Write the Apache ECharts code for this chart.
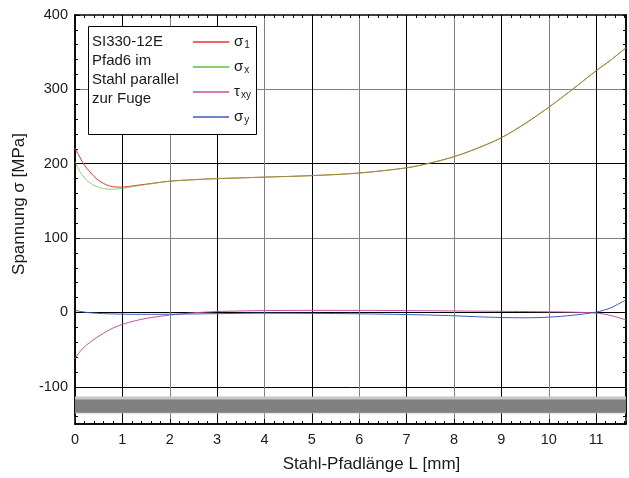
<!DOCTYPE html>
<html><head><meta charset="utf-8">
<script src="https://cdn.jsdelivr.net/npm/echarts@6/dist/echarts.min.js"></script>
<style>html,body{margin:0;padding:0;background:#fff}#c{width:629px;height:478px}</style>
</head><body><div id="c"></div>
<script>
// ---- data ----
const xs     = [0, 0.1, 0.2, 0.3, 0.45, 0.6, 0.8, 1.0, 1.25, 1.5, 2, 2.5, 3, 3.5, 4, 5, 6, 7, 7.5, 8, 8.5, 9, 9.5, 10, 10.5, 11, 11.3, 11.63];
const sigma1 = [221, 209, 198, 190, 180, 173.5, 169, 168.5, 170.5, 172.5, 176.5, 178.5, 180, 181, 182, 184, 187.5, 194.5, 201, 209.5, 221, 235, 254, 276, 300, 325, 339, 356];
const sigmaX = [203, 190, 181, 175, 169.5, 166.5, 165.8, 166.8, 169.5, 172, 176.5, 178.5, 180, 181, 182, 184, 187.5, 194.5, 201, 209.5, 221, 235, 254, 276, 300, 325, 339, 356];
const tauXY  = [-62, -53, -46, -41, -34, -28, -21, -16, -11.5, -8, -3.5, -0.5, 1.2, 2, 2.5, 2.8, 2.8, 2.5, 2.3, 2, 1.8, 1.5, 1.2, 0.9, 0.4, -0.8, -4, -10];
const sigmaY = [3, 1.5, 0.5, -0.3, -1, -1.6, -2, -2.3, -2.5, -2.5, -2.4, -2, -1.6, -1.2, -1, -1.2, -1.8, -2.8, -3.5, -4.5, -5.8, -6.8, -7.2, -6.3, -3.8, 0.5, 6, 17];
const seriesNames = ['σ1', 'σx', 'τxy', 'σy'];
const xTickLabels = [0, 1, 2, 3, 4, 5, 6, 7, 8, 9, 10, 11];
const yTickLabels = [-100, 0, 100, 200, 300, 400];
const band = [-113, -136];      // light gray band (steel)
const bandCore = [-117, -135];  // dark gray core
const xMin = 0, xMax = 11.63, yMin = -150, yMax = 400;
const xMinorStep = 0.2, yMinorStep = 20, yMinorStart = -140;

const pairs = arr => xs.map((x, i) => [x, arr[i]]);
const FONT = 'Liberation Sans, Arial, sans-serif';
const TXT = '#1a1a1a';

// plot geometry
const G = { left: 75, right: 3, top: 15, bottom: 54 };
// second (tick-only) grid whose y range starts at the first minor tick, so interval ticks fall on multiples of 20
const pxPerUnit = (478 - G.top - G.bottom) / (yMax - yMin);
const G2 = { left: G.left, right: G.right, top: G.top, bottom: G.bottom + (yMinorStart - yMin) * pxPerUnit };

const axLine = { show: true, onZero: false, lineStyle: { color: '#000', width: 1.5 } };
const minorTick = { show: true, inside: true, length: 3, lineStyle: { color: '#000', width: 1 } };

const chart = echarts.init(document.getElementById('c'), null, { renderer: 'canvas' });
chart.setOption({
  animation: false,
  backgroundColor: '#fff',
  grid: [
    Object.assign({ containLabel: false }, G),
    Object.assign({ containLabel: false }, G2)
  ],
  xAxis: [
    { type: 'value', gridIndex: 0, position: 'bottom', min: xMin, max: xMax, axisLine: axLine,
      axisTick: { show: true, inside: true, length: 5, customValues: xTickLabels, lineStyle: { color: '#000' } },
      axisLabel: { show: true, customValues: xTickLabels, fontSize: 14.5, fontFamily: FONT, color: TXT, margin: 8 },
      splitLine: { show: true, lineStyle: { color: ['#808080', '#000'], width: 1 } },
      name: 'Stahl-Pfadlänge L [mm]', nameLocation: 'middle', nameGap: 32,
      nameTextStyle: { fontSize: 17, fontFamily: FONT, color: TXT, padding: [0, 0, 0, 42] } },
    { type: 'value', gridIndex: 0, position: 'bottom', min: xMin, max: xMax, interval: xMinorStep, axisLine: axLine,
      axisTick: minorTick, axisLabel: { show: false }, splitLine: { show: false } },
    { type: 'value', gridIndex: 0, position: 'top', min: xMin, max: xMax, interval: xMinorStep, axisLine: axLine,
      axisTick: minorTick, axisLabel: { show: false }, splitLine: { show: false } },
    { type: 'value', gridIndex: 1, position: 'bottom', min: xMin, max: xMax, show: false }
  ],
  yAxis: [
    { type: 'value', gridIndex: 0, position: 'left', min: yMin, max: yMax, axisLine: axLine,
      axisTick: { show: true, inside: true, length: 5, customValues: yTickLabels, lineStyle: { color: '#000' } },
      axisLabel: { show: true, customValues: yTickLabels, fontSize: 14.5, fontFamily: FONT, color: TXT, margin: 7 },
      splitLine: { show: true, lineStyle: { color: ['#000', '#000', '#808080', '#000', '#808080', 'transparent'], width: 1 } },
      name: 'Spannung σ [MPa]', nameLocation: 'middle', nameGap: 38,
      nameTextStyle: { fontSize: 17, fontFamily: FONT, color: TXT, padding: [0, 0, 0, 31] } },
    { type: 'value', gridIndex: 0, position: 'right', min: yMin, max: yMax, axisLine: axLine,
      axisTick: { show: false }, axisLabel: { show: false }, splitLine: { show: false } },
    { type: 'value', gridIndex: 1, position: 'left', min: yMinorStart, max: yMax, interval: yMinorStep, axisLine: axLine,
      axisTick: minorTick, axisLabel: { show: false }, splitLine: { show: false } },
    { type: 'value', gridIndex: 1, position: 'right', min: yMinorStart, max: yMax, interval: yMinorStep, axisLine: axLine,
      axisTick: minorTick, axisLabel: { show: false }, splitLine: { show: false } }
  ],
  legend: {
    orient: 'vertical', left: 188, top: 26, itemWidth: 36, itemHeight: 1.5, itemGap: 6,
    icon: 'rect',
    data: seriesNames,
    formatter: function (n) { return '{s|' + n.charAt(0) + '}{b|' + n.slice(1) + '}'; },
    textStyle: {
      rich: {
        s: { fontSize: 15, fontFamily: FONT, color: TXT, lineHeight: 16, verticalAlign: 'top' },
        b: { fontSize: 10, fontFamily: FONT, color: TXT, lineHeight: 10, padding: [9, 0, 0, 1], verticalAlign: 'bottom' }
      }
    },
    z: 6
  },
  graphic: [
    { type: 'rect', z: 5, shape: { x: 88.5, y: 26.5, width: 168, height: 108 }, style: { fill: '#fff', stroke: '#000', lineWidth: 1 } },
    { type: 'text', z: 6, left: 92, top: 32, style: { text: 'SI330-12E\nPfad6 im\nStahl parallel\nzur Fuge', font: '15px ' + FONT, fill: TXT, lineHeight: 19 } }
  ],
  series: [
    { name: seriesNames[2], type: 'line', xAxisIndex: 0, yAxisIndex: 0, data: pairs(tauXY), showSymbol: false, symbol: 'none', smooth: 0.3, color: '#c4509e', lineStyle: { width: 1 },
      markArea: { silent: true, data: [
        [{ yAxis: band[0], itemStyle: { color: '#c6c6c6' } }, { yAxis: band[1] }],
        [{ yAxis: bandCore[0], itemStyle: { color: '#808080' } }, { yAxis: bandCore[1] }]
      ] } },
    { name: seriesNames[3], type: 'line', xAxisIndex: 0, yAxisIndex: 0, data: pairs(sigmaY), showSymbol: false, symbol: 'none', smooth: 0.3, color: '#3c5cc0', lineStyle: { width: 1 } },
    { name: seriesNames[0], type: 'line', xAxisIndex: 0, yAxisIndex: 0, data: pairs(sigma1), showSymbol: false, symbol: 'none', smooth: 0.3, color: '#ec3434', lineStyle: { width: 1 } },
    { name: seriesNames[1], type: 'line', xAxisIndex: 0, yAxisIndex: 0, data: pairs(sigmaX), showSymbol: false, symbol: 'none', smooth: 0.3, color: '#5cbf3c', lineStyle: { width: 1, opacity: 0.7 } }
  ]
});
</script>
</body></html>
